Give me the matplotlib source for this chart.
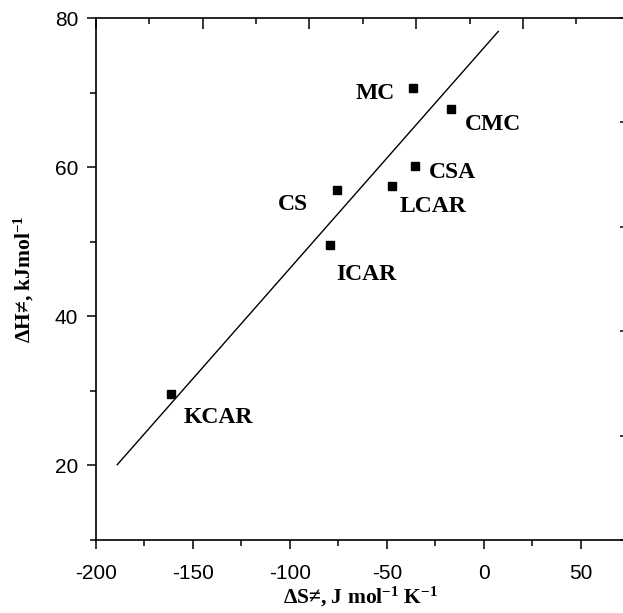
import matplotlib
matplotlib.use("Agg")
import matplotlib.pyplot as plt
from matplotlib.ticker import MultipleLocator

plt.rcParams['axes.unicode_minus'] = False
plt.rcParams['mathtext.fontset'] = 'custom'
plt.rcParams['mathtext.rm'] = 'Liberation Serif:bold'
plt.rcParams['mathtext.it'] = 'Liberation Serif:bold'
plt.rcParams['mathtext.bf'] = 'Liberation Serif:bold'
plt.rcParams['mathtext.default'] = 'rm'

# data
names = ['MC', 'CMC', 'CSA', 'LCAR', 'CS', 'ICAR', 'KCAR']
dS = [-36.6, -17.2, -35.4, -47.4, -75.5, -79.2, -161.3]
dH = [70.6, 67.8, 60.1, 57.5, 57.0, 49.5, 29.6]
fit_x = [-188.9, 7.4]
fit_y = [20.1, 78.2]

# label placement (offset in pixels, horizontal alignment)
label_pos = {
    'MC': (-18, -5, 'right'),
    'CMC': (14, -16, 'left'),
    'CSA': (14, -6, 'left'),
    'LCAR': (8, -21, 'left'),
    'CS': (-29, -15, 'right'),
    'ICAR': (6, -29, 'left'),
    'KCAR': (13, -24, 'left'),
}

fig = plt.figure(figsize=(6.23, 6.13), dpi=100)
ax = fig.add_axes([95.7 / 623, (613 - 540) / 613, (625.6 - 95.7) / 623, (540 - 18) / 613])

ax.plot(fit_x, fit_y, color='black', lw=1.0)
ax.plot(dS, dH, linestyle='none', marker='s', ms=6, color='black')

px = 0.72
for n, x, y in zip(names, dS, dH):
    dx, dy, ha = label_pos[n]
    ax.annotate(n, (x, y), xytext=(dx * px, dy * px), textcoords='offset points',
                ha=ha, va='center', fontsize=17, fontweight='bold',
                family='Liberation Serif')

ax.set_xlim(-200, 73)
ax.set_ylim(10, 80)
ax.xaxis.set_major_locator(MultipleLocator(50))
ax.xaxis.set_minor_locator(MultipleLocator(25))
ax.yaxis.set_major_locator(MultipleLocator(20))
ax.yaxis.set_minor_locator(MultipleLocator(10))

ax.tick_params(which='both', direction='out', width=1.1, labelsize=15,
               top=False, right=False)
ax.tick_params(which='major', length=6.5)
ax.tick_params(which='minor', length=4)
ax.tick_params(axis='x', which='major', pad=11)
ax.tick_params(axis='y', which='major', pad=6)
for lab in ax.get_xticklabels() + ax.get_yticklabels():
    lab.set_family('Liberation Sans')

for s in ['left', 'bottom', 'top']:
    ax.spines[s].set_linewidth(1.2)
ax.spines['right'].set_visible(False)

# leftover top and right tick marks from the original frame
top = ax.twiny()
top.set_xlim(0, 4.96)
top.xaxis.set_major_locator(MultipleLocator(1))
top.xaxis.set_minor_locator(MultipleLocator(0.5))
top.tick_params(which='both', direction='in', width=1.1, labeltop=False)
top.tick_params(which='major', length=8)
top.tick_params(which='minor', length=4.5)

right = ax.twinx()
right.set_ylim(0, 5)
right.yaxis.set_major_locator(MultipleLocator(1))
right.tick_params(which='both', direction='in', width=1.1, length=4.5, labelright=False)
for a in (top, right):
    for s in a.spines.values():
        s.set_visible(False)

ax.set_xlabel('ΔS≠, J mol$^{-1}$ K$^{-1}$', fontsize=15.5,
              fontweight='bold', family='Liberation Serif', labelpad=1)
ax.set_ylabel('ΔH≠, kJmol$^{-1}$', fontsize=15.5,
              fontweight='bold', family='Liberation Serif', labelpad=14)

fig.savefig('out.png', dpi=100)
